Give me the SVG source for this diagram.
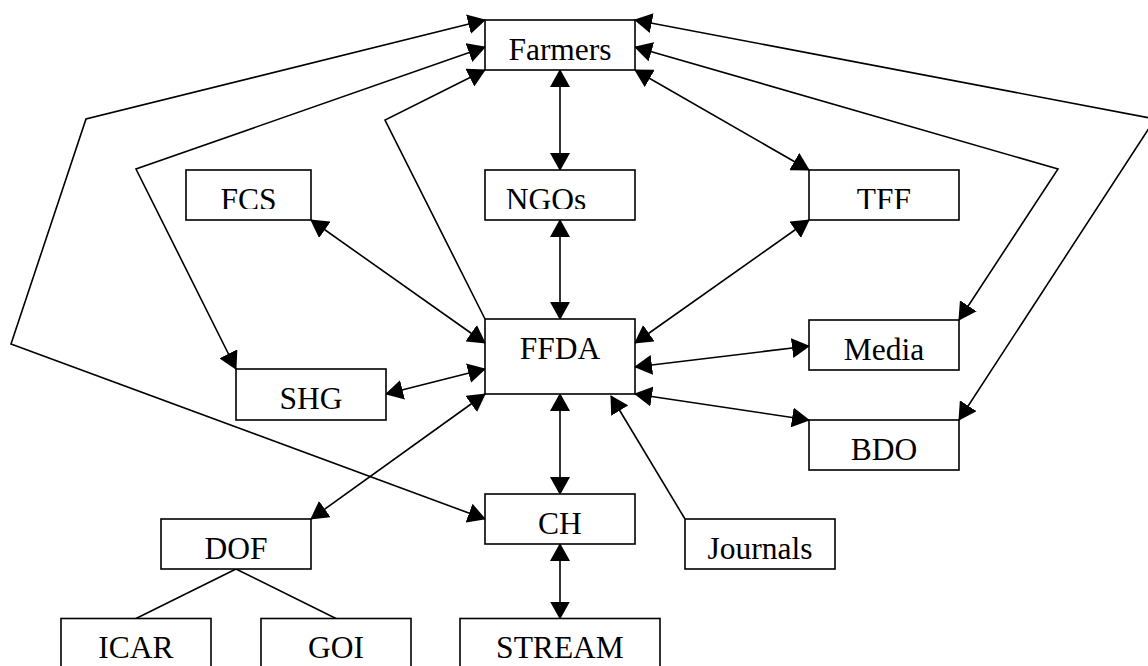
<svg xmlns="http://www.w3.org/2000/svg" width="1148" height="666" viewBox="0 0 1148 666">
<style>
.box{fill:#fff;stroke:#000;stroke-width:1.6}
.lbl{font-family:"Liberation Serif","Times New Roman",serif;font-size:31.5px;fill:#000;text-anchor:middle}
.c{fill:none;stroke:#000;stroke-width:1.6}
.both{marker-start:url(#ah);marker-end:url(#ah)}
.end{marker-end:url(#ah)}
</style>
<defs>
<marker id="ah" markerUnits="userSpaceOnUse" markerWidth="18" markerHeight="20" refX="17" refY="10" orient="auto-start-reverse" viewBox="0 0 18 20">
<path d="M0,0 L18,10 L0,20 z" fill="#000"/>
</marker>
<clipPath id="cut" clipPathUnits="userSpaceOnUse"><rect x="0" y="0" width="1148" height="209"/></clipPath>
</defs>
<rect width="1148" height="666" fill="#fff"/>
<g id="connectors">
<line class="c both" x1="560" y1="70" x2="560" y2="170"/>
<line class="c both" x1="560" y1="220" x2="560" y2="319"/>
<line class="c both" x1="560" y1="394" x2="560" y2="494"/>
<line class="c both" x1="560" y1="544" x2="560" y2="618.5"/>
<line class="c both" x1="635" y1="70" x2="809" y2="170"/>
<line class="c both" x1="311" y1="220" x2="485" y2="343"/>
<line class="c both" x1="809" y1="220" x2="635" y2="343"/>
<line class="c both" x1="386" y1="394" x2="485" y2="369"/>
<line class="c both" x1="809" y1="346" x2="635" y2="367"/>
<line class="c both" x1="809" y1="420" x2="635" y2="394"/>
<line class="c both" x1="485" y1="394" x2="311" y2="519"/>
<line class="c end" x1="685" y1="519" x2="611" y2="396"/>
<polyline class="c both" points="485,20 86,119 11,344 485,519"/>
<polyline class="c both" points="485,47 136,169 236,369"/>
<polyline class="c end" points="485,319 385,120 485,70"/>
<polyline class="c both" points="635,47 1058,169 959,320"/>
<polyline class="c both" points="635,20 1155,119 959,420"/>
<line class="c" x1="236" y1="569" x2="136" y2="618.5"/>
<line class="c" x1="236" y1="569" x2="336" y2="618.5"/>
</g>
<g id="farmers"><rect class="box" x="485" y="20" width="150" height="50"/><text class="lbl" x="560" y="60">Farmers</text></g>
<g id="fcs"><rect class="box" x="186" y="170" width="125" height="50"/><text class="lbl" x="248.5" y="209.5" clip-path="url(#cut)">FCS</text></g>
<g id="ngos"><rect class="box" x="485" y="170" width="150" height="50"/><text class="lbl" x="546" y="209.5" clip-path="url(#cut)">NGOs</text></g>
<g id="tff"><rect class="box" x="809" y="170" width="150" height="50"/><text class="lbl" x="884" y="209.5" clip-path="url(#cut)">TFF</text></g>
<g id="ffda"><rect class="box" x="485" y="319" width="150" height="75"/><text class="lbl" x="560" y="359">FFDA</text></g>
<g id="shg"><rect class="box" x="236" y="369" width="150" height="51"/><text class="lbl" x="311" y="408.5">SHG</text></g>
<g id="media"><rect class="box" x="809" y="320" width="150" height="50"/><text class="lbl" x="884" y="359.5">Media</text></g>
<g id="bdo"><rect class="box" x="809" y="420" width="150" height="50"/><text class="lbl" x="884" y="459.5">BDO</text></g>
<g id="ch"><rect class="box" x="485" y="494" width="150" height="50"/><text class="lbl" x="560" y="533.5">CH</text></g>
<g id="journals"><rect class="box" x="685" y="519" width="150" height="50"/><text class="lbl" x="760" y="558.5">Journals</text></g>
<g id="dof"><rect class="box" x="161" y="519" width="150" height="50"/><text class="lbl" x="236" y="558.5">DOF</text></g>
<g id="icar"><rect class="box" x="61" y="618.5" width="150" height="60"/><text class="lbl" x="136" y="658">ICAR</text></g>
<g id="goi"><rect class="box" x="261" y="618.5" width="150" height="60"/><text class="lbl" x="336" y="658">GOI</text></g>
<g id="stream"><rect class="box" x="460" y="618.5" width="200" height="60"/><text class="lbl" x="560" y="658">STREAM</text></g>
</svg>
